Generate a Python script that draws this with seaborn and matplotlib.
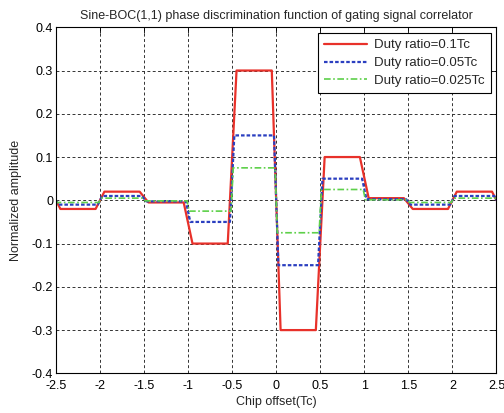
import matplotlib
matplotlib.use("Agg")
import matplotlib.pyplot as plt
import seaborn as sns
import pandas as pd

sns.set_theme(style="white")
plt.rcParams['font.family'] = ['Liberation Sans', 'DejaVu Sans']

# Piecewise-linear discriminator curves (chip offset in Tc, normalized amplitude)
x_01 = [-2.5, -2.45, -2.05, -1.95, -1.55, -1.45, -1.05, -0.95, -0.55, -0.45, -0.05,
        0.05, 0.45, 0.55, 0.95, 1.05, 1.45, 1.55, 1.95, 2.05, 2.45, 2.5]
y_01 = [0.0, -0.02, -0.02, 0.02, 0.02, -0.005, -0.005, -0.1, -0.1, 0.3, 0.3,
        -0.3, -0.3, 0.1, 0.1, 0.005, 0.005, -0.02, -0.02, 0.02, 0.02, 0.0]

x_005 = [-2.5, -2.475, -2.025, -1.975, -1.525, -1.475, -1.025, -0.975, -0.525, -0.475, -0.025,
         0.025, 0.475, 0.525, 0.975, 1.025, 1.475, 1.525, 1.975, 2.025, 2.475, 2.5]
y_005 = [0.0, -0.01, -0.01, 0.01, 0.01, -0.0025, -0.0025, -0.05, -0.05, 0.15, 0.15,
         -0.15, -0.15, 0.05, 0.05, 0.0025, 0.0025, -0.01, -0.01, 0.01, 0.01, 0.0]

x_0025 = [-2.5, -2.4875, -2.0125, -1.9875, -1.5125, -1.4875, -1.0125, -0.9875, -0.5125, -0.4875, -0.0125,
          0.0125, 0.4875, 0.5125, 0.9875, 1.0125, 1.4875, 1.5125, 1.9875, 2.0125, 2.4875, 2.5]
y_0025 = [0.0, -0.005, -0.005, 0.005, 0.005, -0.00125, -0.00125, -0.025, -0.025, 0.075, 0.075,
          -0.075, -0.075, 0.025, 0.025, 0.00125, 0.00125, -0.005, -0.005, 0.005, 0.005, 0.0]

labels = ["Duty ratio=0.1Tc", "Duty ratio=0.05Tc", "Duty ratio=0.025Tc"]
x_ticks = [-2.5, -2, -1.5, -1, -0.5, 0, 0.5, 1, 1.5, 2, 2.5]
x_ticklabels = ["-2.5", "-2", "-1.5", "-1", "-0.5", "0", "0.5", "1", "1.5", "2", "2.5"]
y_ticks = [-0.4, -0.3, -0.2, -0.1, 0, 0.1, 0.2, 0.3, 0.4]
y_ticklabels = ["-0.4", "-0.3", "-0.2", "-0.1", "0", "0.1", "0.2", "0.3", "0.4"]

fig = plt.figure(figsize=(5.04, 4.13), dpi=100)
ax = fig.add_axes([0.111, 0.096, 0.874, 0.838])

styles = [
    dict(color="#e8312a", linestyle="-", linewidth=1.6),
    dict(color="#2b3fc0", linestyle=(0, (1.6, 0.9)), linewidth=1.6),
    dict(color="#5ed04a", linestyle=(0, (4, 1.5, 1, 1.5)), linewidth=1.2),
]
for xs, ys, lab, st in zip([x_01, x_005, x_0025], [y_01, y_005, y_0025], labels, styles):
    df = pd.DataFrame({"x": xs, "y": ys})
    sns.lineplot(data=df, x="x", y="y", ax=ax, label=lab, sort=False, estimator=None, **st)

ax.set_xlim(-2.5, 2.5)
ax.set_ylim(-0.4, 0.4)
ax.set_xticks(x_ticks)
ax.set_xticklabels(x_ticklabels)
ax.set_yticks(y_ticks)
ax.set_yticklabels(y_ticklabels)
ax.grid(True, color="#333333", linestyle=(0, (3, 2.5)), linewidth=0.7)
ax.tick_params(direction="in", length=4, width=0.6, top=True, right=True,
               labelsize=9, colors="black")
ax.tick_params(axis="x", pad=5)
ax.tick_params(axis="y", pad=2)
for s in ax.spines.values():
    s.set_color("black")
    s.set_linewidth(0.8)

ax.set_xlabel("Chip offset(Tc)", fontsize=9, labelpad=3)
ax.set_ylabel("Normalized amplitude", fontsize=9, labelpad=7)
ax.set_title("Sine-BOC(1,1) phase discrimination function of gating signal correlator",
             fontsize=9, pad=6)

leg = ax.legend(loc="upper right", fontsize=9.5, frameon=True, fancybox=False,
                edgecolor="black", framealpha=1, borderpad=0.45, labelspacing=0.42,
                handlelength=3.3, handletextpad=0.5, borderaxespad=0.45)
leg.get_frame().set_linewidth(0.8)

fig.savefig("out.png", dpi=100)
